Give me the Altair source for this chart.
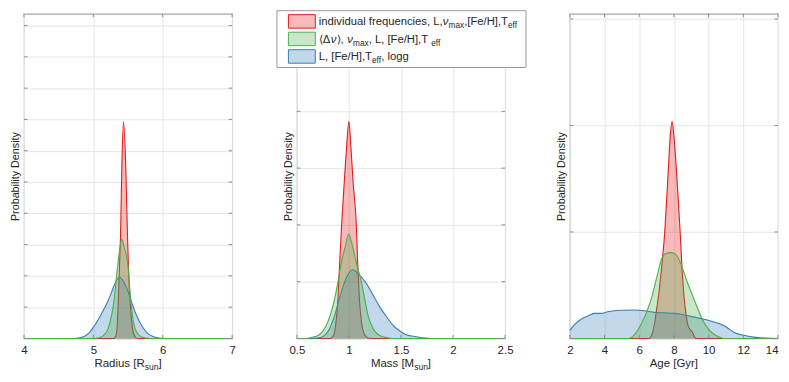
import altair as alt
import pandas as pd

FONT = "Liberation Sans"
TEXT_COLOR = "#262626"
GRID_COLOR = "#e6e6e6"
TICK_COLOR = "#8c8c8c"

# ---------------- data ----------------
series_keys = ["freq", "dnu", "classic"]
series_colors = {"freq": "#e41a1c", "dnu": "#4daf4a", "classic": "#377eb8"}
draw_order = ["freq", "classic", "dnu"]

# Radius panel
radius_freq_x = [4.0, 5.29, 5.32, 5.34, 5.36, 5.38, 5.392, 5.41, 5.435, 5.468, 5.492, 5.51, 5.531, 5.55, 5.57, 5.6, 5.63, 7.0]
radius_freq_y = [0, 0, 0.05, 0.3, 1.2, 2.5, 3.3, 5.42, 6.93, 5.42, 3.3, 2.0, 1.18, 0.6, 0.25, 0.06, 0, 0]
radius_dnu_x = [4.0, 5.0, 5.08, 5.14, 5.2, 5.25, 5.3, 5.345, 5.38, 5.41, 5.44, 5.5, 5.54, 5.58, 5.62, 5.68, 5.75, 5.82, 7.0]
radius_dnu_y = [0, 0, 0.02, 0.08, 0.25, 0.6, 1.25, 2.2, 2.85, 3.18, 2.95, 2.3, 1.2, 0.5, 0.22, 0.07, 0.015, 0, 0]
radius_classic_x = [4.0, 4.72, 4.8, 4.88, 4.95, 5.02, 5.1, 5.18, 5.25, 5.31, 5.373, 5.44, 5.5, 5.56, 5.62, 5.7, 5.78, 5.86, 5.95, 6.02, 7.0]
radius_classic_y = [0, 0, 0.02, 0.08, 0.2, 0.42, 0.72, 1.05, 1.4, 1.75, 1.95, 1.8, 1.5, 1.1, 0.75, 0.4, 0.17, 0.06, 0.01, 0, 0]

# Mass panel
mass_freq_x = [0.5, 0.82, 0.848, 0.873, 0.895, 0.91, 0.93, 0.955, 0.975, 1.0, 1.02, 1.04, 1.071, 1.085, 1.1, 1.125, 1.16, 1.2, 2.5]
mass_freq_y = [0, 0, 0.04, 0.24, 0.71, 1.29, 2.0, 2.75, 3.3, 3.82, 3.35, 2.75, 2.0, 1.29, 0.71, 0.24, 0.04, 0, 0]
mass_dnu_x = [0.5, 0.6, 0.624, 0.704, 0.768, 0.822, 0.864, 0.895, 0.928, 0.96, 0.998, 1.04, 1.077, 1.119, 1.15, 1.182, 1.23, 1.294, 1.374, 1.42, 2.5]
mass_dnu_y = [0, 0, 0.01, 0.05, 0.18, 0.415, 0.71, 1.0, 1.35, 1.58, 1.84, 1.58, 1.29, 1.0, 0.71, 0.415, 0.18, 0.05, 0.01, 0, 0]
mass_classic_x = [0.5, 0.66, 0.69, 0.75, 0.816, 0.864, 0.91, 0.96, 1.033, 1.1, 1.167, 1.23, 1.294, 1.36, 1.42, 1.486, 1.55, 1.645, 1.74, 1.8, 2.5]
mass_classic_y = [0, 0, 0.005, 0.035, 0.18, 0.415, 0.71, 1.0, 1.21, 1.12, 0.97, 0.77, 0.56, 0.386, 0.24, 0.135, 0.065, 0.03, 0.005, 0, 0]

# Age panel
age_freq_x = [2.0, 6.55, 6.8, 7.0, 7.15, 7.3, 7.47, 7.58, 7.68, 7.79, 7.89, 8.0, 8.14, 8.25, 8.36, 8.47, 8.58, 8.68, 8.8, 8.95, 9.06, 9.2, 9.3, 14.0]
age_freq_y = [0, 0, 0.07, 0.27, 0.45, 0.68, 1.0, 1.3, 1.59, 1.9, 2.04, 1.9, 1.59, 1.3, 1.0, 0.65, 0.4, 0.25, 0.13, 0.08, 0.06, 0.01, 0, 0]
age_dnu_x = [2.0, 5.4, 5.5, 5.8, 6.1, 6.48, 6.76, 7.05, 7.3, 7.55, 7.82, 8.0, 8.2, 8.49, 8.77, 9.06, 9.35, 9.63, 10.0, 10.4, 10.9, 14.0]
age_dnu_y = [0, 0, 0.005, 0.05, 0.13, 0.27, 0.41, 0.6, 0.75, 0.8, 0.806, 0.8, 0.77, 0.66, 0.53, 0.41, 0.29, 0.18, 0.085, 0.03, 0, 0]
age_classic_x = [2.0, 2.27, 2.65, 3.04, 3.42, 3.8, 4.19, 4.57, 5.14, 5.72, 6.3, 6.87, 7.45, 8.02, 8.6, 9.17, 9.75, 10.3, 10.9, 11.26, 11.55, 12.0, 12.6, 13.35, 14.0]
age_classic_y = [0.075, 0.13, 0.18, 0.21, 0.235, 0.235, 0.25, 0.26, 0.265, 0.267, 0.26, 0.245, 0.24, 0.235, 0.22, 0.2, 0.18, 0.155, 0.12, 0.08, 0.05, 0.03, 0.012, 0.003, 0]

# axes
radius_xticks = [4, 5, 6, 7]
mass_xticks = [0.5, 1, 1.5, 2, 2.5]
age_xticks = [2, 4, 6, 8, 10, 12, 14]
radius_yticks = list(range(0, 11))
mass_yticks = list(range(0, 6))
age_yticks = list(range(0, 4))
radius_ytop = 10.38
mass_ytop = 5.72
age_ytop = 3.05

y_title = "Probability Density"
# x titles as (text, fontsize, baseline shift, style) pieces
radius_title = [("Radius [R", 11.5, 0, "normal"), ("sun", 8.5, 3, "normal"), ("]", 11.5, 0, "normal")]
mass_title = [("Mass [M", 11.5, 0, "normal"), ("sun", 8.5, 3, "normal"), ("]", 11.5, 0, "normal")]
age_title = [("Age [Gyr]", 11.5, 0, "normal")]

legend_rows = [
    [("individual frequencies, L,", 11.3, 0, "normal"), ("ν", 11.3, 0, "italic"), ("max", 8.3, 3, "normal"),
     (",[Fe/H],T", 11.3, 0, "normal"), ("eff", 8.3, 3, "normal")],
    [("⟨Δ", 11.3, 0, "normal"), ("ν", 11.3, 0, "italic"), ("⟩, ", 11.3, 0, "normal"), ("ν", 11.3, 0, "italic"),
     ("max", 8.3, 3, "normal"), (", L,  [Fe/H],T", 11.3, 0, "normal"), ("eff", 8.3, 3, "normal")],
    [("L, [Fe/H],T", 11.3, 0, "normal"), ("eff", 8.3, 3, "normal"), (", logg", 11.3, 0, "normal")],
]
legend_keys = ["freq", "dnu", "classic"]

# ---------------- helpers ----------------
W, H = 209, 326

CW = {' ': .278, ',': .278, '.': .278, '[': .278, ']': .278, '/': .278, '(': .333, ')': .333,
      'A': .667, 'B': .667, 'C': .722, 'D': .722, 'E': .667, 'F': .611, 'G': .778, 'H': .722,
      'I': .278, 'L': .556, 'M': .833, 'R': .722, 'T': .611,
      'a': .556, 'b': .556, 'c': .5, 'd': .556, 'e': .556, 'f': .278, 'g': .556, 'h': .556,
      'i': .222, 'j': .222, 'k': .5, 'l': .222, 'm': .833, 'n': .556, 'o': .556, 'p': .556,
      'q': .556, 'r': .333, 's': .5, 't': .278, 'u': .556, 'v': .5, 'w': .722, 'x': .5,
      'y': .5, 'z': .5, 'ν': .52, 'Δ': .667, '⟨': .39, '⟩': .39}


def twidth(s, size):
    return sum(CW.get(c, .556) for c in s) * size


def text_run(pieces, x0, baseline):
    out = []
    cx = x0
    for txt, size, dy, style in pieces:
        out.append(
            alt.Chart(pd.DataFrame({"t": [txt]}))
            .mark_text(align="left", baseline="alphabetic", font=FONT, fontSize=size,
                       fontStyle=style, color=TEXT_COLOR)
            .encode(text="t:N", x=alt.value(cx), y=alt.value(baseline + dy))
        )
        cx += twidth(txt, size)
    return out


def centered_run(pieces, center, baseline):
    total = sum(twidth(t, s) for t, s, _, _ in pieces)
    return text_run(pieces, center - total / 2, baseline)


def panel(xs, ys, xdom, xticks, ytop, yticks, title_pieces, legend=False, last_right=False):
    rows = []
    for key in series_keys:
        for x, y in zip(xs[key], ys[key]):
            rows.append({"x": x, "y": y, "s": key})
    df = pd.DataFrame(rows)
    axis_kw = dict(values=xticks, title=None, format="~g", ticks=False, domain=False,
                   labelFlush=False, labelPadding=6, labelFontSize=11.5,
                   labelFont=FONT, labelColor=TEXT_COLOR, gridColor=GRID_COLOR)
    if last_right:
        axis_kw["labelAlign"] = alt.condition(f"datum.value == {xticks[-1]}",
                                              alt.value("right"), alt.value("center"))
    xenc = alt.X("x:Q", scale=alt.Scale(domain=xdom, nice=False, zero=False),
                 axis=alt.Axis(**axis_kw))
    yenc = alt.Y("y:Q", scale=alt.Scale(domain=[0, ytop], nice=False, zero=True),
                 axis=alt.Axis(values=yticks, title=y_title, labels=False, ticks=False, domain=False,
                               titlePadding=3.5, titleFont=FONT, titleFontSize=10.8,
                               titleFontWeight="normal", titleColor=TEXT_COLOR, gridColor=GRID_COLOR))
    base = alt.Chart(df)
    layers = []
    for key in draw_order:
        col = series_colors[key]
        sub = base.transform_filter(alt.datum.s == key)
        layers.append(sub.mark_area(fill=col, fillOpacity=0.3, interpolate="monotone")
                      .encode(x=xenc, y=yenc))
        layers.append(sub.mark_line(stroke=col, strokeWidth=1.1, interpolate="monotone")
                      .encode(x=xenc, y=yenc))
    # inward tick marks on all four sides
    ytick_df = pd.DataFrame({"y": yticks})
    xtick_df = pd.DataFrame({"x": xticks})
    for a, b in [(0, 3.5), (W - 3.5, W)]:
        layers.append(alt.Chart(ytick_df).mark_rule(color=TICK_COLOR, strokeWidth=1)
                      .encode(y=yenc, x=alt.value(a), x2=alt.value(b)))
    for a, b in [(H - 3.5, H), (0, 3.5)]:
        layers.append(alt.Chart(xtick_df).mark_rule(color=TICK_COLOR, strokeWidth=1)
                      .encode(x=xenc, y=alt.value(a), y2=alt.value(b)))
    layers += centered_run(title_pieces, W / 2, H + 29)
    if legend:
        layers.append(
            alt.Chart(pd.DataFrame({"a": [0]}))
            .mark_rect(fill="white", stroke="#9a9a9a", strokeWidth=1)
            .encode(x=alt.value(-20), x2=alt.value(230), y=alt.value(-3), y2=alt.value(54))
        )
        for i, (key, row) in enumerate(zip(legend_keys, legend_rows)):
            col = series_colors[key]
            top = 1 + i * 17.6
            layers.append(
                alt.Chart(pd.DataFrame({"s": [key]}))
                .mark_rect(fill=col, fillOpacity=0.3, stroke=col, strokeWidth=1)
                .encode(x=alt.value(-8.5), x2=alt.value(18.5), y=alt.value(top), y2=alt.value(top + 13.5))
            )
            layers += text_run(row, 22, top + 10.5)
    return alt.layer(*layers).properties(width=W, height=H)


p_radius = panel(
    {"freq": radius_freq_x, "dnu": radius_dnu_x, "classic": radius_classic_x},
    {"freq": radius_freq_y, "dnu": radius_dnu_y, "classic": radius_classic_y},
    [4, 7], radius_xticks, radius_ytop, radius_yticks, radius_title)
p_mass = panel(
    {"freq": mass_freq_x, "dnu": mass_dnu_x, "classic": mass_classic_x},
    {"freq": mass_freq_y, "dnu": mass_dnu_y, "classic": mass_classic_y},
    [0.5, 2.5], mass_xticks, mass_ytop, mass_yticks, mass_title, legend=True)
p_age = panel(
    {"freq": age_freq_x, "dnu": age_dnu_x, "classic": age_classic_x},
    {"freq": age_freq_y, "dnu": age_dnu_y, "classic": age_classic_y},
    [2, 14], age_xticks, age_ytop, age_yticks, age_title, last_right=True)

chart = (
    alt.hconcat(p_radius, p_mass, p_age, spacing=65, bounds="flush")
    .properties(padding={"left": 0, "top": 0, "right": 0, "bottom": 0}, background="white")
    .configure_view(stroke="#a6a6a6", strokeWidth=1.1)
)

chart.save("out.html", embed_options={"renderer": "svg", "actions": False})
